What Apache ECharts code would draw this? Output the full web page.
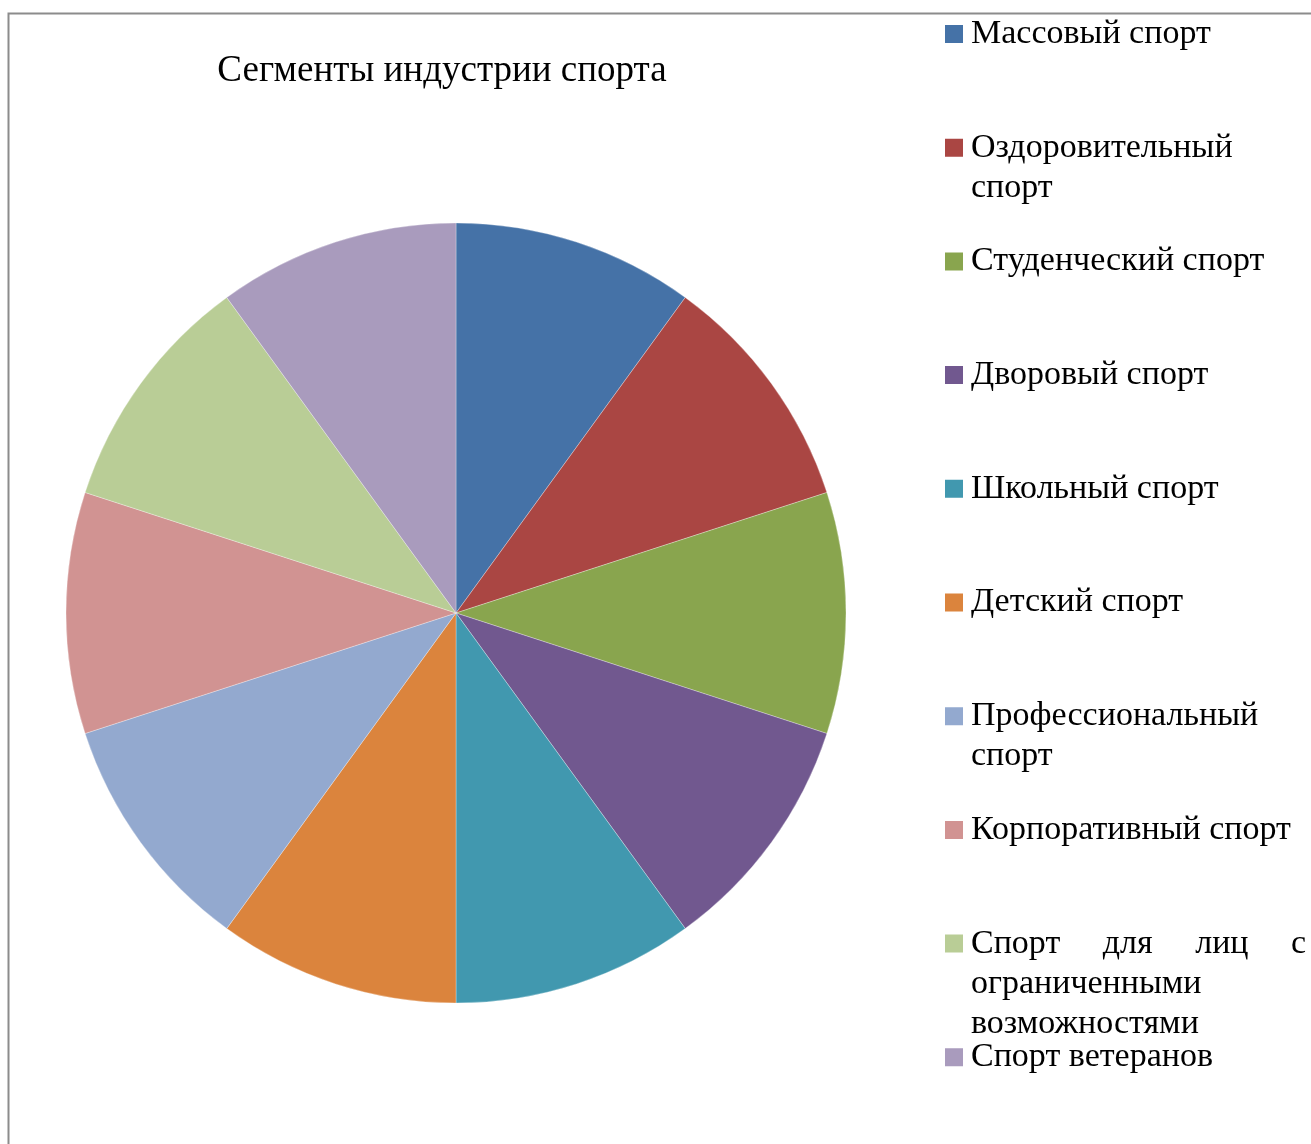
<!DOCTYPE html>
<html>
<head>
<meta charset="utf-8">
<script src="https://cdn.jsdelivr.net/npm/echarts@6/dist/echarts.min.js"></script>
<style>
html,body{margin:0;padding:0;background:#fff;}
#c{width:1311px;height:1144px;}
</style>
</head>
<body>
<div id="c"></div>
<script>
const titleText = 'Сегменты индустрии спорта';
const categories = [
  'Массовый спорт',
  'Оздоровительный спорт',
  'Студенческий спорт',
  'Дворовый спорт',
  'Школьный спорт',
  'Детский спорт',
  'Профессиональный спорт',
  'Корпоративный спорт',
  'Спорт для лиц с ограниченными возможностями',
  'Спорт ветеранов'
];
const values = [1, 1, 1, 1, 1, 1, 1, 1, 1, 1];
const legendLabels = [
  'Массовый спорт',
  'Оздоровительный\nспорт',
  'Студенческий спорт',
  'Дворовый спорт',
  'Школьный спорт',
  'Детский спорт',
  'Профессиональный\nспорт',
  'Корпоративный спорт',
  'Спорт     для     лиц     с\nограниченными\nвозможностями',
  'Спорт ветеранов'
];
const colors = ['#4572A7','#AA4643','#89A54E','#71588F','#4198AF','#DB843D','#93A9CF','#D19392','#B9CD96','#A99BBD'];

const FONT = '"Liberation Serif", "Times New Roman", serif';
const LH = 40;
const SQ = 18;
const chart = echarts.init(document.getElementById('c'), null, {renderer: 'canvas'});

const legends = categories.map((name, i) => {
  const n = legendLabels[i].split('\n').length;
  const h = n * LH;
  const y0 = (LH - SQ) / 2;
  // square aligned with the first text line; tiny segments pin the icon's bounding box to the full text height
  const icon = 'path://M0 0L0.01 0M0 ' + h + 'L0.01 ' + h +
               'M0 ' + y0 + 'L' + SQ + ' ' + y0 + 'L' + SQ + ' ' + (y0 + SQ) + 'L0 ' + (y0 + SQ) + 'Z';
  return {
    orient: 'vertical',
    left: 945,
    top: 14 + i * 113.7,
    padding: 0,
    icon: icon,
    itemWidth: SQ,
    itemHeight: h,
    symbolKeepAspect: false,
    selectedMode: false,
    data: [name],
    formatter: () => legendLabels[i],
    textStyle: {
      fontFamily: FONT,
      fontSize: 34,
      lineHeight: LH,
      color: '#000',
      padding: [0, 0, 0, 3]
    },
    itemStyle: {borderWidth: 0}
  };
});

chart.setOption({
  animation: false,
  color: colors,
  title: {
    text: titleText,
    left: 437,
    top: 48,
    textAlign: 'center',
    textStyle: {fontFamily: FONT, fontSize: 37, fontWeight: 'normal', color: '#000'}
  },
  legend: legends,
  graphic: [{
    type: 'rect',
    shape: {x: 8.5, y: 13.5, width: 1400, height: 1300},
    style: {fill: 'none', stroke: '#8c8c8c', lineWidth: 2},
    silent: true,
    z: 100
  }],
  series: [{
    type: 'pie',
    center: [456, 613],
    radius: 390,
    startAngle: 90,
    clockwise: true,
    label: {show: false},
    labelLine: {show: false},
    itemStyle: {borderColor: '#fff', borderWidth: 0.3},
    emphasis: {disabled: true},
    data: categories.map((n, i) => ({name: n, value: values[i]}))
  }]
});
</script>
</body>
</html>
